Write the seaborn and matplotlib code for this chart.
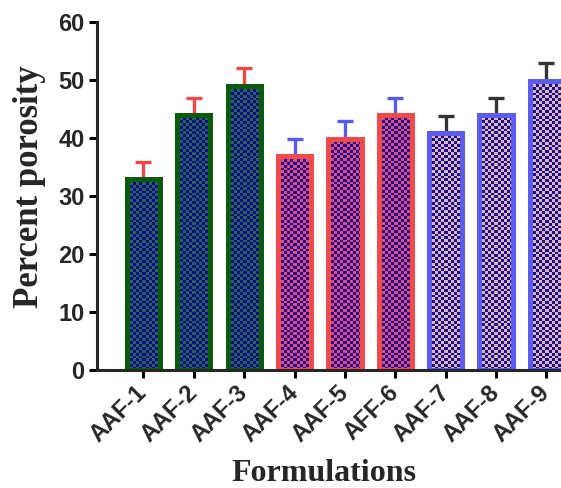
import numpy as np
import pandas as pd
import matplotlib
matplotlib.use("Agg")
import matplotlib.pyplot as plt
from matplotlib.colors import ListedColormap
import seaborn as sns

# ---- data ----
formulations = ["AAF-1", "AAF-2", "AAF-3", "AAF-4", "AAF-5", "AFF-6", "AAF-7", "AAF-8", "AAF-9"]
porosity = [32.9, 44.0, 48.9, 36.8, 39.9, 44.0, 40.9, 44.0, 49.8]
porosity_err = [3.0, 2.9, 3.1, 3.0, 3.0, 2.9, 2.9, 2.9, 3.1]
group = ["G1", "G1", "G1", "G2", "G2", "G2", "G3", "G3", "G3"]

# styling per group
edge_colors = {"G1": "#0b5a0b", "G2": "#f04a4a", "G3": "#5c5cf0"}
check_colors = {"G1": ("#0a0aa0", "#2b6440"),
                "G2": ("#1a08a0", "#e0506a"),
                "G3": ("#1010a0", "#e8b4a4")}
err_colors = {"G1": "#f04848", "G2": "#5a5af0", "G3": "#333333"}

df = pd.DataFrame({"formulation": formulations, "porosity": porosity,
                   "err": porosity_err, "group": group})

sns.set_style("ticks")
fig = plt.figure(figsize=(5.61, 4.88), dpi=100)
ax = fig.add_axes([0.173, 0.242, 0.827, 0.713])

sns.barplot(data=df, x="formulation", y="porosity", color="white",
            width=0.66, ax=ax, errorbar=None)

XLIM = (-0.92, 8.29)
YLIM = (0, 60)
ax.set_xlim(*XLIM)
ax.set_ylim(*YLIM)

# checkered fill clipped to each bar
px_per_x = 0.827 * 561 / (XLIM[1] - XLIM[0])
px_per_y = 0.713 * 488 / (YLIM[1] - YLIM[0])
cell = 2.9
for p, g in zip(ax.patches, df["group"]):
    x0, w, h = p.get_x(), p.get_width(), p.get_height()
    nx = max(1, int(round(w * px_per_x / cell)))
    ny = max(1, int(round(h * px_per_y / cell)))
    grid = (np.add.outer(np.arange(ny), np.arange(nx)) % 2).astype(float)
    im = ax.imshow(grid, extent=[x0, x0 + w, 0, h], origin="lower",
                   cmap=ListedColormap(list(check_colors[g])), vmin=0, vmax=1,
                   aspect="auto", interpolation="nearest", zorder=1)
    im.set_clip_path(p)
    p.set_facecolor("none")
    p.set_edgecolor(edge_colors[g])
    p.set_linewidth(3.6)
    p.set_zorder(2)

# upper-only error bars
for i, row in df.iterrows():
    ax.errorbar(i, row["porosity"], yerr=[[0], [row["err"]]], fmt="none",
                ecolor=err_colors[row["group"]], elinewidth=2.4, capsize=6,
                capthick=2.4, zorder=1.5)

ax.set_xlim(*XLIM)
ax.set_ylim(*YLIM)
ax.set_yticks(range(0, 61, 10))

sns.despine(ax=ax)
for s in ["left", "bottom"]:
    ax.spines[s].set_linewidth(2.2)
ax.tick_params(axis="both", width=2.2, length=6, direction="out", color="black")
ax.tick_params(axis="y", pad=3)
ax.tick_params(axis="x", pad=8)

tick_font = dict(family="Liberation Sans", weight="bold", size=17)
ax.set_yticklabels([str(v) for v in range(0, 61, 10)], **tick_font)
ax.set_xticks(range(len(formulations)))
ax.set_xticklabels(formulations, rotation=45, ha="right", va="center",
                   rotation_mode="anchor", **tick_font)

ax.set_ylabel("Percent porosity", family="Liberation Serif", weight="bold", size=25)
ax.set_xlabel("Formulations", family="Liberation Serif", weight="bold", size=23)
ax.yaxis.set_label_coords(-0.11, 0.526)
ax.xaxis.set_label_coords(0.489, -0.255)

fig.savefig("out.png", dpi=100)
